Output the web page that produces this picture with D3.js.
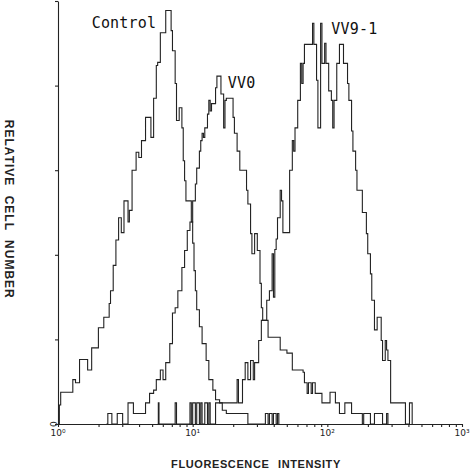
<!DOCTYPE html>
<html>
<head>
<meta charset="utf-8">
<script src="https://cdn.jsdelivr.net/npm/d3@7"></script>
<style>
  body { margin: 0; background: #fff; }
  svg { display: block; }
</style>
</head>
<body>
<svg id="chart" width="472" height="474"></svg>
<script>
// histogram steps: [log10 intensity where the step starts, cell count]
const control = [
  [0.00, 0], [0.01, 1.8], [0.02, 3.0], [0.11, 4.2], [0.13, 3.9], [0.16, 6.1],
  [0.22, 5.1], [0.25, 7.2], [0.30, 9.1], [0.34, 10.1], [0.38, 11.4], [0.39, 12.6],
  [0.41, 15.0], [0.43, 17.4], [0.45, 19.5], [0.47, 18.1], [0.49, 21.1], [0.52, 19.1],
  [0.53, 20.2], [0.55, 24.0], [0.58, 25.7], [0.60, 25.2], [0.62, 26.8], [0.65, 29.0],
  [0.69, 27.1], [0.71, 30.8], [0.73, 33.9], [0.74, 34.2], [0.76, 37.0], [0.80, 39.1],
  [0.84, 37.2], [0.85, 35.3], [0.87, 32.2], [0.88, 28.7], [0.90, 29.9], [0.92, 28.0],
  [0.93, 24.9], [0.94, 23.0], [0.95, 21.1], [0.99, 19.1], [1.00, 17.1], [1.01, 14.5],
  [1.02, 12.6], [1.03, 10.8], [1.05, 9.2], [1.07, 7.6], [1.10, 6.0], [1.12, 4.2],
  [1.15, 3.2], [1.17, 2.3], [1.20, 2.0], [1.22, 1.3], [1.25, 1.0], [1.41, 0],
  [1.54, 1], [1.56, 0], [1.57, 1], [1.59, 0], [1.60, 1], [1.62, 0], [1.63, 1], [1.64, 0]
]

const vv0 = [
  [0.36, 0], [0.37, 1], [0.40, 0], [0.44, 1], [0.48, 0], [0.52, 2], [0.56, 1],
  [0.65, 2], [0.68, 2.9], [0.71, 3.2], [0.73, 4.2], [0.76, 5.1], [0.78, 4.2],
  [0.80, 5.8], [0.83, 7.6], [0.85, 10.5], [0.87, 11.0], [0.89, 12.6], [0.92, 14.8],
  [0.94, 16.4], [0.96, 18.3], [0.98, 19.1], [1.00, 21.1], [1.02, 22.7], [1.03, 24.2],
  [1.05, 25.8], [1.06, 26.8], [1.07, 27.5], [1.08, 27.1], [1.09, 28.0], [1.11, 29.3],
  [1.12, 30.6], [1.13, 29.6], [1.14, 30.3], [1.17, 31.8], [1.18, 32.9], [1.21, 31.2],
  [1.23, 28.0], [1.24, 30.6], [1.25, 30.8], [1.30, 29.0], [1.31, 27.5], [1.33, 25.8],
  [1.35, 24.0], [1.40, 22.1], [1.41, 20.8], [1.43, 18.0], [1.44, 16.1], [1.46, 18.0],
  [1.48, 16.4], [1.50, 13.3], [1.51, 11.0], [1.52, 9.8], [1.56, 8.2], [1.65, 7.0],
  [1.70, 6.7], [1.74, 5.1], [1.82, 4.9], [1.83, 3.9], [1.85, 2.9], [1.86, 3.9],
  [1.88, 2.9], [1.89, 3.9], [1.91, 2.9], [1.96, 2.0], [2.02, 3.0], [2.06, 2.0],
  [2.09, 1.0], [2.13, 2.0], [2.18, 1.0], [2.26, 0], [2.27, 1], [2.32, 0],
  [2.35, 1], [2.41, 0], [2.44, 1], [2.45, 0]
]

const vv91 = [
  [0.74, 0], [0.745, 2], [0.75, 0], [0.87, 2], [0.88, 0], [0.98, 2], [0.99, 0],
  [1.00, 2], [1.02, 0], [1.03, 2], [1.05, 0], [1.06, 2], [1.07, 0], [1.09, 2],
  [1.11, 0], [1.12, 2], [1.13, 0], [1.17, 2], [1.33, 4.2], [1.34, 2.0], [1.37, 4.2],
  [1.39, 5.8], [1.41, 4.2], [1.43, 6.0], [1.45, 4.2], [1.46, 5.8], [1.49, 7.9],
  [1.51, 9.8], [1.55, 11.7], [1.57, 12.6], [1.59, 16.1], [1.60, 12.0], [1.61, 16.5],
  [1.62, 17.5], [1.63, 19.5], [1.65, 22.1], [1.66, 21.1], [1.67, 18.1], [1.72, 24.0],
  [1.74, 26.8], [1.75, 25.8], [1.76, 28.0], [1.78, 30.6], [1.80, 34.1], [1.81, 32.2],
  [1.82, 34.1], [1.83, 35.9], [1.89, 37.9], [1.90, 35.9], [1.92, 32.5], [1.93, 28.0],
  [1.95, 37.9], [1.96, 34.1], [1.98, 36.0], [1.99, 34.1], [2.01, 31.5], [2.03, 30.6],
  [2.04, 28.0], [2.05, 30.6], [2.07, 34.1], [2.09, 35.9], [2.12, 34.1], [2.15, 32.2],
  [2.16, 30.6], [2.18, 27.7], [2.19, 25.8], [2.21, 24.0], [2.22, 22.1], [2.26, 20.0],
  [2.29, 18.0], [2.30, 16.1], [2.32, 14.2], [2.33, 11.7], [2.35, 8.9], [2.37, 10.1],
  [2.40, 7.9], [2.41, 6.0], [2.43, 7.9], [2.44, 7.0], [2.45, 6.0], [2.47, 2.0],
  [2.58, 0], [2.61, 2.0], [2.63, 0]
]

const seriesNames = ['Control', 'VV0', 'VV9-1']
// where each name sits: [log10 intensity, count]
const labelSpots = [[0.25, 37.4], [1.26, 31.8], [2.03, 36.9]]
const decadeLabels = ['10\u2070', '10\u00b9', '10\u00b2', '10\u00b3']
const yTicks = [0, 8, 16, 24, 32, 40]

const svg = d3.select('#chart')

// scales //
const x = d3.scaleLinear().domain([0, 3]).range([58, 462])
const xLog = d3.scaleLog().domain([1, 1000]).range([58, 462])
const y = d3.scaleLinear().domain([0, 40]).range([424, 1])

// axes //
const minorTicks = []
for (let d = 1; d < 1000; d *= 10) {
  for (let k = 1; k < 10; k++) minorTicks.push(d * k)
}
minorTicks.push(1000)

const xAxis = svg.append('g')
  .attr('transform', `translate(0, ${y(0)})`)
  .call(d3.axisBottom(xLog).tickValues(minorTicks).tickSize(3).tickSizeOuter(0).tickFormat(''))
xAxis.selectAll('path, line').attr('stroke', '#222').attr('stroke-width', 1.1)

svg.selectAll('.decade')
  .data(decadeLabels)
  .join('text')
  .attr('class', 'decade')
  .attr('x', (d, i) => xLog(Math.pow(10, i)))
  .attr('y', 436)
  .attr('text-anchor', 'middle')
  .style('font-family', 'DejaVu Sans, sans-serif')
  .style('font-size', '9px')
  .attr('fill', '#222')
  .text(d => d)

const yAxis = svg.append('g')
  .attr('transform', `translate(${x(0)}, 0)`)
  .call(d3.axisLeft(y).tickValues(yTicks).tickSize(3).tickSizeOuter(0).tickFormat(''))
yAxis.selectAll('path, line').attr('stroke', '#222').attr('stroke-width', 1.1)

svg.append('text')
  .attr('transform', `translate(50, ${y(0)}) rotate(90)`)
  .attr('text-anchor', 'middle')
  .style('font-family', 'DejaVu Sans, sans-serif')
  .style('font-size', '9px')
  .attr('fill', '#222')
  .text('0')

// axis titles
svg.append('text')
  .attr('transform', `translate(5, ${y(20.3)}) rotate(90)`)
  .attr('text-anchor', 'middle')
  .style('font-family', 'Liberation Sans, Arial, sans-serif')
  .style('font-weight', 'bold')
  .style('font-size', '12px')
  .style('letter-spacing', '1px')
  .style('word-spacing', '5px')
  .attr('fill', '#222')
  .text('RELATIVE CELL NUMBER')

svg.append('text')
  .attr('x', 256)
  .attr('y', 468)
  .attr('text-anchor', 'middle')
  .style('font-family', 'Liberation Sans, Arial, sans-serif')
  .style('font-weight', 'bold')
  .style('font-size', '11px')
  .style('letter-spacing', '0.6px')
  .style('word-spacing', '5px')
  .attr('fill', '#222')
  .text('FLUORESCENCE INTENSITY')

// draw histograms //
const line = d3.line()
  .x(d => x(d[0]))
  .y(d => y(d[1]))
  .curve(d3.curveStepAfter)

svg.selectAll('.hist')
  .data([control, vv0, vv91])
  .join('path')
  .attr('class', 'hist')
  .attr('d', d => line(d))
  .attr('fill', 'none')
  .attr('stroke', '#222')
  .attr('stroke-width', 1.1)

// series names
svg.selectAll('.name')
  .data(seriesNames)
  .join('text')
  .attr('class', 'name')
  .attr('x', (d, i) => x(labelSpots[i][0]))
  .attr('y', (d, i) => y(labelSpots[i][1]))
  .style('font-family', 'DejaVu Sans Mono, monospace')
  .style('font-size', '15px')
  .style('letter-spacing', '0.2px')
  .attr('fill', '#111')
  .text(d => d)
</script>
</body>
</html>
